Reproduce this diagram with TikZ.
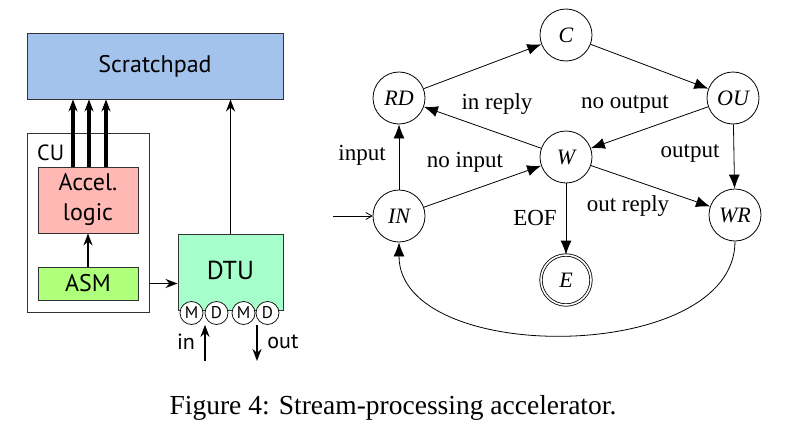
\documentclass[tikz,border=0pt]{standalone}
\usepackage{fontspec}
\setmainfont{Liberation Serif}
\newfontfamily\lsans{PT Sans}
\usetikzlibrary{arrows.meta,positioning}
\definecolor{spblue}{HTML}{A4C3EC}
\definecolor{accpink}{HTML}{FFB8B4}
\definecolor{asmgreen}{HTML}{AEFF7A}
\definecolor{dtugreen}{HTML}{A6FFCB}
\definecolor{edgegray}{HTML}{333333}
\tikzset{
  blk/.style={draw=edgegray,line width=0.9pt,inner sep=0pt,font=\lsans\fontsize{24}{26}\selectfont},
  smallc/.style={circle,draw=black,fill=white,line width=0.7pt,minimum size=23pt,inner sep=0pt,font=\lsans\fontsize{17}{17}\selectfont},
  larr/.style={-{Stealth[length=12pt,width=9pt]},line width=1.8pt},
  tharr/.style={-{Stealth[length=12pt,width=9pt]},line width=3.4pt},
  st/.style={circle,draw=black,line width=0.8pt,minimum size=52pt,inner sep=0pt,font=\fontsize{22}{22}\selectfont\itshape},
  sarr/.style={-{Latex[length=14pt,width=11pt]},line width=0.8pt},
  lab/.style={font=\fontsize{23}{23}\selectfont,inner sep=0pt},
  llab/.style={font=\lsans\fontsize{22}{22}\selectfont,inner sep=0pt}
}
\begin{document}
\begin{tikzpicture}[x=1pt,y=-1pt]
\useasboundingbox (0,0) rectangle (787,439);
% left part
\node[blk,fill=spblue,minimum width=256pt,minimum height=66pt] (sp) at (155,66) {Scratchpad};
\node[draw=edgegray,line width=0.8pt,minimum width=122pt,minimum height=179pt,inner sep=0pt] (cu) at (88,222.5) {};
\node[llab,anchor=west] (cul) at (37,153) {CU};
\node[blk,fill=accpink,minimum width=100pt,minimum height=66pt,align=center] (acc) at (88,200) {Accel.\\[4pt]logic};
\node[blk,fill=asmgreen,minimum width=100pt,minimum height=33pt] (asm) at (88,283.5) {ASM};
\node[blk,fill=dtugreen,minimum width=105pt,minimum height=76pt] (dtu) at (230.5,272) {};
\node[font=\lsans\fontsize{26}{26}\selectfont] (dtul) at (230.5,270) {DTU};
\node[smallc] (m1) at (191.5,313) {M};
\node[smallc] (d1) at (216.5,313) {D};
\node[smallc] (m2) at (243.5,313) {M};
\node[smallc] (d2) at (267.5,313) {D};
\draw[larr] (asm) -- (acc);
\draw[larr] (cu.east |- asm) -- (dtu.west |- asm);
\draw[larr] (dtu.north) -- (dtu.north |- sp.south);
\coordinate (a1) at (73,167);
\coordinate (a2) at (89,167);
\coordinate (a3) at (106,167);
\draw[tharr] (a1) -- (a1 |- sp.south);
\draw[tharr] (a2) -- (a2 |- sp.south);
\draw[tharr] (a3) -- (a3 |- sp.south);
\coordinate (inb) at (205,361);
\coordinate (outb) at (257,361);
\draw[larr] (inb) -- (inb |- d1.south);
\draw[larr] (outb |- m2.south) -- (outb);
\node[llab] (inl) at (186,342) {in};
\node[llab] (outl) at (283,342) {out};
% right part
\node[st] (C) at (566,35) {C};
\node[st] (RD) at (399,98) {RD};
\node[st] (OU) at (733,98) {OU};
\node[st] (W) at (566,157) {W};
\node[st] (IN) at (399,216) {IN};
\node[st] (WR) at (735,215) {WR};
\node[st,double,double distance=1.6pt,minimum size=50pt] (E) at (566,280) {E};
\coordinate (start) at (333,216);
\draw[-{Straight Barb[length=6pt,width=7pt]},line width=0.8pt] (start) -- (IN);
\draw[sarr] (RD) -- (C);
\draw[sarr] (C) -- (OU);
\draw[sarr] (W) -- (RD);
\draw[sarr] (OU) -- (W);
\draw[sarr] (OU) -- (WR);
\draw[sarr] (IN) -- (RD);
\draw[sarr] (IN) -- (W);
\draw[sarr] (W) -- (WR);
\draw[sarr] (W) -- (E);
\draw[sarr] (WR.south) .. controls +(0,123) and +(0,124) .. (IN.south);
\node[lab] (l1) at (497,104) {in reply};
\node[lab] (l2) at (625,104) {no output};
\node[lab] (l3) at (362,155) {input};
\node[lab] (l4) at (465,162) {no input};
\node[lab] (l5) at (690,153) {output};
\node[lab] (l6) at (535,218) {EOF};
\node[lab] (l7) at (628,206) {out reply};
% caption
\node[font=\fontsize{27.5}{27.5}\selectfont,inner sep=0pt] (cap) at (393,408) {Figure 4: Stream-processing accelerator.};
\end{tikzpicture}
\end{document}
